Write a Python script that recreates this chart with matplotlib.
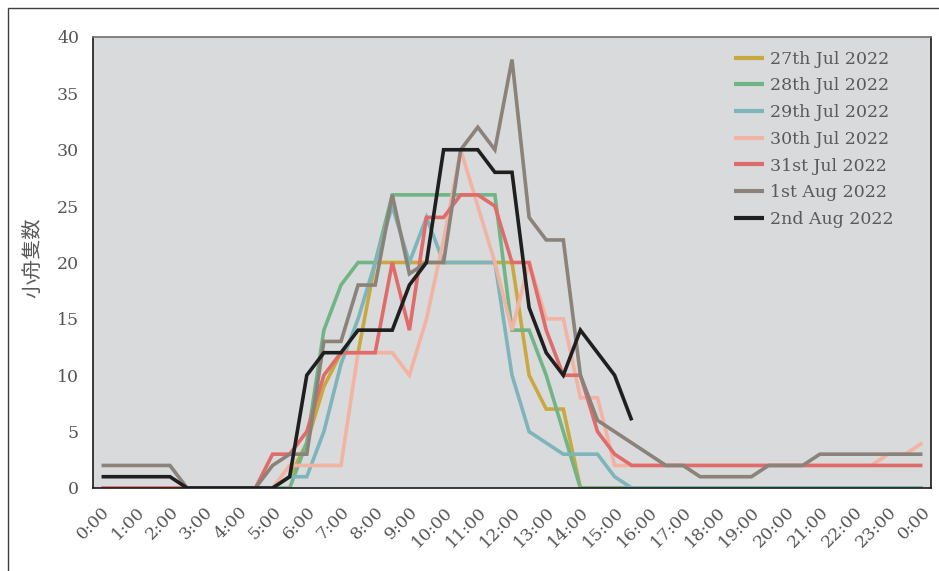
import matplotlib
matplotlib.use("Agg")
import matplotlib.pyplot as plt
import numpy as np
from matplotlib.patches import Rectangle

# half-hour steps, 0:00 .. 24:00 (49 points)
hour_labels = [f"{h}:00" for h in range(24)] + ["0:00"]

series_names = ["27th Jul 2022", "28th Jul 2022", "29th Jul 2022", "30th Jul 2022",
                "31st Jul 2022", "1st Aug 2022", "2nd Aug 2022"]

jul27 = [0]*11 + [1, 4, 9, 12, 12] + [20]*9 + [10, 7, 7] + [0]*21
jul28 = [0]*12 + [4, 14, 18, 20, 20] + [26]*7 + [14, 14, 10, 5] + [0]*21
jul29 = [0]*11 + [1, 1, 5, 11, 15, 20, 25, 20, 24] + [20]*4 + [10, 5, 4, 3, 3, 3, 1] + [0]*18
jul30 = [0]*11 + [2]*4 + [12]*3 + [10, 15, 22, 30, 25, 20, 14, 20, 15, 15, 8, 8] + [2]*16 + [3, 3, 4]
jul31 = [0]*10 + [3, 3, 5, 10, 12, 12, 12, 20, 14, 24, 24, 26, 26, 25, 20, 20, 14, 10, 10, 5, 3] + [2]*18
aug1 = [2]*5 + [0]*5 + [2, 3, 3, 13, 13, 18, 18, 26, 19, 20, 20, 30, 32, 30, 38, 24, 22, 22,
                         10, 6, 5, 4, 3, 2, 2] + [1]*4 + [2]*3 + [3]*7
aug2 = [1]*5 + [0]*6 + [1, 10, 12, 12, 14, 14, 14, 18, 20, 30, 30, 30, 28, 28, 16, 12, 10,
                         14, 12, 10, 6] + [np.nan]*17

all_series = [jul27, jul28, jul29, jul30, jul31, aug1, aug2]
colors = ["#C9A93F", "#72B585", "#7DB5BA", "#F2B3A3", "#E06B6B", "#8B8279", "#1F1F1F"]

W, H = 939, 571
fig = plt.figure(figsize=(W/100, H/100), dpi=100)
ax = fig.add_axes([93/W, 1-488/H, (931-93)/W, (488-37)/H])
ax.set_facecolor("#D9DADC")

x = np.arange(49)
for name, vals, c in zip(series_names, all_series, colors):
    ax.plot(x, np.array(vals, dtype=float), color=c, lw=2.6, label=name,
            solid_joinstyle="miter", solid_capstyle="butt")

ax.set_xlim(-0.5, 48.5)
ax.set_ylim(0, 40)
ax.set_yticks(range(0, 41, 5))
ax.set_xticks(range(0, 49, 2))
ax.set_xticklabels(hour_labels, rotation=45, ha="right", va="top", rotation_mode="anchor")
ax.tick_params(length=0, labelsize=12.5, labelcolor="#555555")
for lab in ax.get_xticklabels() + ax.get_yticklabels():
    lab.set_fontfamily("DejaVu Serif")
ax.tick_params(axis="y", pad=10)
ax.tick_params(axis="x", pad=11)

for s in ["left", "bottom", "right"]:
    ax.spines[s].set_color("#1a1a1a")
    ax.spines[s].set_linewidth(1.2)
ax.spines["top"].set_color("#707070")
ax.spines["top"].set_linewidth(1.2)

leg = ax.legend(loc="upper left", bbox_to_anchor=(718/W, 1-35/H), bbox_transform=fig.transFigure,
                frameon=False, handlelength=1.75, handletextpad=0.35, labelspacing=0.56,
                prop={"family": "DejaVu Serif", "size": 12.5})
for t in leg.get_texts():
    t.set_color("#595959")
for l in leg.get_lines():
    l.set_linewidth(3)

fig.text(33/W, 1-258/H, "小舟隻数", rotation=90, ha="center", va="center",
         fontsize=14.5, color="#595959", family=["Noto Sans CJK JP", "DejaVu Sans"])

fig.patches.append(Rectangle((8/W, -0.1), 1.2, 1.1 - 8/H, transform=fig.transFigure,
                             fill=False, edgecolor="#404040", lw=1))

fig.savefig("out.png", dpi=100)
